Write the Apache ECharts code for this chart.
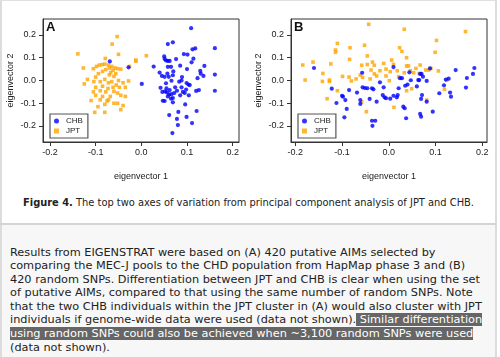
<!DOCTYPE html>
<html><head><meta charset="utf-8">
<script src="https://cdn.jsdelivr.net/npm/echarts@6/dist/echarts.min.js"></script>
<style>
html,body{margin:0;padding:0;background:#fff;width:500px;height:357px;overflow:hidden;}
.b{position:absolute;}
#chart{position:absolute;left:0;top:0;width:500px;height:186px;}
#cap{position:absolute;left:2px;width:493px;top:196px;text-align:center;font-family:"DejaVu Sans",Verdana,sans-serif;font-size:9.9px;color:#222;white-space:nowrap;line-height:14px;}
#para{position:absolute;left:10px;top:245.5px;font-family:"DejaVu Sans",Verdana,sans-serif;font-size:11.3px;color:#222;line-height:13.6px;white-space:nowrap;}
.hl{background:#666;color:#fff;}
</style></head>
<body>
<div class="b" style="left:0;top:0;width:497px;height:1px;background:#e0e0e0"></div>
<div class="b" style="left:0;top:0;width:2px;height:357px;background:#dcdcdc"></div>
<div class="b" style="left:495px;top:0;width:2px;height:357px;background:#dcdcdc"></div>
<div class="b" style="left:2px;top:225px;width:493px;height:132px;background:#f7f7f7"></div>
<div class="b" style="left:0;top:223px;width:497px;height:2px;background:#d4d4d4"></div>
<div id="chart"></div>
<div id="cap"><b>Figure 4.</b> The top two axes of variation from principal component analysis of JPT and CHB.</div>
<div id="para">Results from EIGENSTRAT were based on (A) 420 putative AIMs selected by<br>comparing the MEC-J pools to the CHD population from HapMap phase 3 and (B)<br>420 random SNPs. Differentiation between JPT and CHB is clear when using the set<br>of putative AIMs, compared to that using the same number of random SNPs. Note<br>that the two CHB individuals within the JPT cluster in (A) would also cluster with JPT<br>individuals if genome-wide data were used (data not shown).<span class="hl"> Similar differentiation </span><br><span class="hl">using random SNPs could also be achieved when ~3,100 random SNPs were used</span><br>(data not shown).</div>
<script>
// ---- data ----
const xTicks = [-0.2, -0.1, 0.0, 0.1, 0.2];
const yTicks = [-0.2, -0.1, 0.0, 0.1, 0.2];
const tickLabels = ['-0.2', '-0.1', '0.0', '0.1', '0.2'];
const seriesNames = ['CHB', 'JPT'];
const panelLabels = ['A', 'B'];

const chbA = [
[0.109,0.230],[0.058,0.160],[0.069,0.168],[0.161,0.142],[0.112,0.137],[0.118,0.141],[0.093,0.116],[0.101,0.114],[0.114,0.096],[0.076,0.094],
[0.050,0.106],[0.051,0.095],[0.054,0.088],[0.058,0.086],[0.062,0.086],[0.027,0.061],[0.058,0.060],[0.065,0.060],[0.085,0.065],[0.138,0.064],
[0.040,0.035],[0.129,0.042],[0.051,0.016],[0.060,0.016],[0.069,0.023],[0.089,0.015],[0.161,0.026],[0.136,0.020],[0.066,-0.001],[0.083,-0.005],
[0.123,0.010],[0.001,-0.015],[0.099,-0.011],[0.103,-0.018],[0.106,-0.020],[0.042,-0.032],[0.074,-0.030],[0.046,-0.050],[0.052,-0.048],[0.056,-0.052],
[0.061,-0.062],[0.066,-0.060],[0.085,-0.065],[0.091,-0.050],[0.095,-0.055],[0.120,-0.046],[0.126,-0.042],[0.161,-0.045],[0.047,-0.089],[0.051,-0.090],
[0.069,-0.077],[0.069,-0.096],[0.096,-0.105],[0.061,-0.152],[0.081,-0.138],[0.099,-0.160],[0.121,-0.134],[0.078,-0.169],[0.080,-0.196],[0.111,-0.187],
[0.068,-0.231],[-0.069,0.084],[-0.028,0.058],[0.055,-0.035],[0.062,-0.042],[0.072,-0.055],[0.058,-0.070],[0.065,-0.080],[0.078,-0.045],[0.088,-0.030],
[0.098,-0.040],[0.045,0.020],[0.070,0.040],[0.100,0.050],[0.110,0.080],[0.130,0.030],[0.088,0.000],[0.057,0.030],[0.104,-0.065],[0.054,-0.012]
];
const jptA = [
[-0.053,0.193],[-0.064,0.160],[-0.139,0.117],[-0.050,0.115],[-0.079,0.097],[-0.012,0.090],[-0.012,0.085],[0.011,0.109],[-0.026,0.062],[-0.127,0.055],
[-0.105,0.052],[-0.098,0.062],[-0.092,0.068],[-0.086,0.070],[-0.080,0.072],[-0.072,0.068],[-0.065,0.062],[-0.058,0.055],[-0.052,0.052],[-0.045,0.050],
[-0.070,0.055],[-0.062,0.045],[-0.078,0.048],[-0.085,0.040],[-0.094,0.030],[-0.067,0.035],[-0.056,0.030],[-0.070,0.025],[-0.060,0.018],[-0.100,0.015],
[-0.118,0.005],[-0.125,-0.015],[-0.104,-0.005],[-0.090,-0.005],[-0.080,0.005],[-0.072,-0.010],[-0.065,-0.005],[-0.050,0.000],[-0.040,-0.010],[-0.028,-0.002],
[-0.100,-0.030],[-0.085,-0.025],[-0.073,-0.035],[-0.062,-0.030],[-0.055,-0.020],[-0.048,-0.030],[-0.035,-0.030],[-0.105,-0.050],[-0.090,-0.045],[-0.078,-0.050],
[-0.060,-0.048],[-0.052,-0.055],[-0.045,-0.065],[-0.068,-0.070],[-0.085,-0.070],[-0.100,-0.065],[-0.110,-0.088],[-0.090,-0.085],[-0.075,-0.090],[-0.060,-0.100],
[-0.052,-0.100],[-0.040,-0.110],[-0.080,-0.105],[-0.095,-0.115],[-0.102,-0.140],[-0.080,-0.140],[-0.045,-0.128],[-0.035,-0.070],[-0.072,-0.085]
];
const chbB = [
[-0.160,0.055],[-0.122,-0.036],[-0.112,-0.099],[-0.085,-0.042],[-0.100,-0.067],[-0.098,-0.071],[-0.093,-0.086],[-0.090,-0.125],[-0.095,-0.162],[-0.068,-0.053],
[-0.061,-0.086],[-0.061,-0.103],[-0.057,0.034],[-0.056,-0.030],[-0.051,-0.033],[-0.046,-0.034],[-0.036,-0.034],[-0.033,-0.039],[-0.041,-0.081],[-0.036,-0.177],
[-0.029,-0.177],[-0.035,-0.199],[-0.026,-0.093],[-0.019,-0.008],[-0.011,-0.030],[-0.013,-0.064],[-0.009,-0.074],[-0.006,-0.078],[0.003,-0.080],[0.010,0.059],
[0.010,-0.067],[0.017,-0.074],[0.019,-0.064],[0.024,0.010],[0.028,0.010],[0.021,-0.034],[0.035,-0.023],[0.031,-0.115],[0.034,-0.122],[0.037,-0.166],
[0.044,0.036],[0.047,0.001],[0.040,-0.018],[0.060,-0.026],[0.063,0.002],[0.067,0.029],[0.070,0.029],[0.073,0.017],[0.065,0.002],[0.069,-0.081],
[0.071,-0.064],[0.067,-0.147],[0.069,-0.159],[0.081,-0.002],[0.088,0.053],[0.081,-0.093],[0.094,-0.137],[0.108,-0.056],[0.118,-0.021],[0.122,0.004],
[0.128,0.008],[0.131,-0.053],[0.133,-0.071],[0.143,0.046],[0.165,-0.031],[0.167,0.011],[0.180,0.029],[0.183,0.055]
];
const jptB = [
[-0.043,0.247],[0.033,0.225],[0.164,0.215],[0.102,0.176],[-0.110,0.163],[-0.052,0.155],[-0.114,0.134],[-0.114,0.124],[-0.083,0.144],[0.023,0.144],
[0.028,0.128],[0.099,0.124],[0.038,0.100],[-0.046,0.108],[-0.084,0.093],[-0.162,0.081],[-0.124,0.073],[-0.184,0.068],[-0.141,0.031],[-0.179,0.002],
[-0.142,-0.004],[-0.127,0.002],[-0.127,-0.004],[-0.110,-0.045],[-0.132,-0.080],[-0.099,0.018],[-0.085,0.015],[-0.080,-0.002],[-0.070,0.007],[-0.061,0.024],
[-0.056,0.014],[-0.058,0.067],[-0.046,0.070],[-0.035,0.081],[-0.031,0.067],[-0.038,0.046],[-0.031,0.029],[-0.040,0.007],[-0.026,0.020],[-0.019,0.043],
[-0.011,0.075],[-0.006,0.050],[0.003,0.039],[0.006,0.090],[0.010,0.071],[-0.006,0.020],[0.001,-0.001],[0.018,0.043],[0.021,0.017],[0.033,0.034],
[0.038,0.064],[0.042,0.064],[0.046,0.043],[0.053,0.034],[0.058,0.053],[0.065,0.031],[0.067,0.068],[0.049,-0.036],[0.038,-0.045],[0.011,-0.118],
[-0.048,-0.137],[-0.058,-0.095],[0.081,-0.086],[0.079,0.046],[0.085,0.046],[0.090,0.053],[0.106,0.042],[0.119,-0.039],[0.124,0.002]
];

// ---- layout / style ----
const panels = [
  {left:43, top:19, width:196, height:123, xmin:-0.2153, xmax:0.2138, yGap:28},
  {left:291, top:19, width:196, height:124, xmin:-0.2092, xmax:0.2100, yGap:28}
];
const YMIN = -0.2703, YMAX = 0.2703;
const CHB_COLOR = '#0000ff', JPT_COLOR = '#ffa500';
const FONT = '"Liberation Sans", Arial, sans-serif';
const fmt = v => tickLabels[xTicks.findIndex(t => Math.abs(t - v) < 1e-9)] ?? v.toFixed(1);

const chart = echarts.init(document.getElementById('chart'), null, {renderer:'canvas'});
const grid = [], xAxis = [], yAxis = [], series = [], legend = [], title = [];
panels.forEach((p, i) => {
  grid.push({left:p.left, top:p.top, width:p.width, height:p.height, show:true, borderColor:'#333', borderWidth:1, backgroundColor:'#fff'});
  xAxis.push({gridIndex:i, type:'value', min:p.xmin, max:p.xmax,
    axisLine:{show:true, onZero:false, lineStyle:{color:'#333', width:1}}, splitLine:{show:false},
    axisTick:{show:true, length:4, customValues:xTicks, lineStyle:{color:'#333'}},
    axisLabel:{customValues:xTicks, formatter:fmt, fontSize:9, fontFamily:FONT, color:'#222', margin:6},
    name:'eigenvector 1', nameLocation:'middle', nameGap:30, nameTextStyle:{fontSize:9, fontFamily:FONT, color:'#222'}});
  yAxis.push({gridIndex:i, type:'value', min:YMIN, max:YMAX,
    axisLine:{show:true, onZero:false, lineStyle:{color:'#333', width:1}}, splitLine:{show:false},
    axisTick:{show:true, length:4, customValues:yTicks, lineStyle:{color:'#333'}},
    axisLabel:{customValues:yTicks, formatter:fmt, fontSize:9, fontFamily:FONT, color:'#222', margin:7},
    name:'eigenvector 2', nameLocation:'middle', nameGap:p.yGap, nameTextStyle:{fontSize:9, fontFamily:FONT, color:'#222'}});
  const chb = i === 0 ? chbA : chbB, jpt = i === 0 ? jptA : jptB;
  series.push({type:'scatter', name:seriesNames[1], xAxisIndex:i, yAxisIndex:i, data:jpt, symbol:'rect', symbolSize:3.6, itemStyle:{color:JPT_COLOR}, silent:true});
  series.push({type:'scatter', name:seriesNames[0], xAxisIndex:i, yAxisIndex:i, data:chb, symbol:'circle', symbolSize:4.2, itemStyle:{color:CHB_COLOR}, silent:true});
  legend.push({left:p.left + 7, top:114, orient:'vertical', padding:[3,5,3,4], itemGap:2, itemWidth:5, itemHeight:5,
    borderColor:'#555', borderWidth:1.2, backgroundColor:'#fff',
    data:[{name:seriesNames[0], icon:'circle'}, {name:seriesNames[1], icon:'rect'}],
    textStyle:{fontSize:8, fontFamily:FONT, color:'#222', padding:[0,0,0,2]}, selectedMode:false});
  title.push({text:panelLabels[i], left:p.left + 3, top:21, padding:0, textStyle:{fontSize:13, fontWeight:'bold', fontFamily:FONT, color:'#111'}});
});
chart.setOption({animation:false, backgroundColor:'transparent', grid, xAxis, yAxis, series, legend, title});
</script>
</body></html>
